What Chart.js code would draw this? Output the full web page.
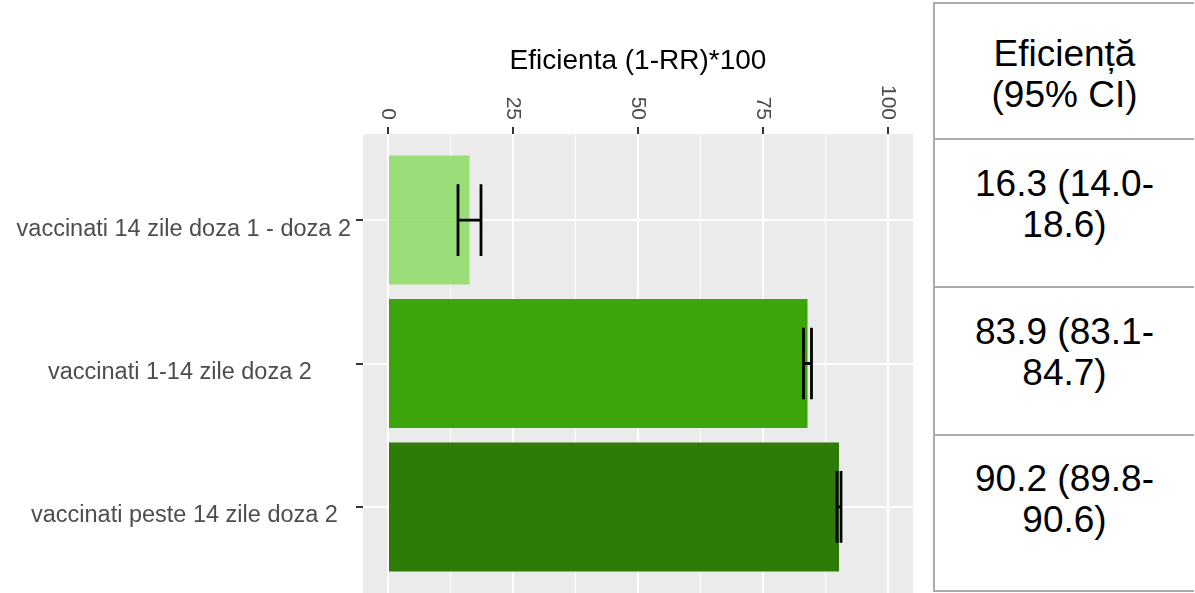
<!DOCTYPE html>
<html>
<head>
<meta charset="utf-8">
<script src="https://cdn.jsdelivr.net/npm/chart.js@4.4.1/dist/chart.umd.min.js"></script>
<style>
    html, body { margin: 0; padding: 0; background: #fff; }
    body { width: 1195px; height: 593px; overflow: hidden; position: relative; }
    #chart { position: absolute; left: 0; top: 0; }
    .cell {
        position: absolute;
        left: 933px;
        width: 261px;
        box-sizing: border-box;
        border-left: 2px solid #ABABAB;
        border-top: 2px solid #ABABAB;
        text-align: center;
        white-space: nowrap;
        font: 37px/41px 'Liberation Sans', Arial, sans-serif;
        color: #000;
    }
    .head { top: 2px; height: 137px; display: flex; align-items: center; justify-content: center; padding-top: 4px; }
    .row { padding-top: 23px; }
    .r1 { top: 138px; height: 148px; }
    .r2 { top: 286px; height: 148px; }
    .r3 { top: 434px; height: 158px; border-bottom: 2px solid #ABABAB; padding-top: 22px; }
</style>
</head>
<body>
<canvas id="chart" width="930" height="593"></canvas>
<div id="table"></div>
<script>
// Donnees
const categories = [
    'vaccinati 14 zile doza 1 - doza 2',
    'vaccinati 1-14 zile doza 2      ',
    'vaccinati peste 14 zile doza 2  '
];
const efficacy = [16.3, 83.9, 90.2];
const ciLower = [14.0, 83.1, 89.8];
const ciUpper = [18.6, 84.7, 90.6];
const xTicks = [0, 25, 50, 75, 100];
const xMinorTicks = [12.5, 37.5, 62.5, 87.5];
const tableHeader = ['Eficiență', '(95% CI)'];

const colors = {
    bars: ['rgba(140, 220, 102, 0.85)', '#3DA50C', '#2E7B07'],
    panel: '#EBEBEB',
    grid: '#FFFFFF',
    tick: '#333333',
    text: '#4D4D4D'
};

Chart.defaults.font.family = "'Liberation Sans', Arial, sans-serif";

// fond gris du panneau (style ggplot)
const panelBackground = {
    id: 'panelBackground',
    beforeDraw(chart) {
        const { ctx, chartArea: a } = chart;
        ctx.save();
        ctx.fillStyle = colors.panel;
        ctx.fillRect(a.left, a.top, a.right - a.left, a.bottom - a.top);
        ctx.restore();
    }
};

// barres d'erreur (IC 95%)
const errorBars = {
    id: 'errorBars',
    afterDatasetsDraw(chart) {
        const { ctx, scales: { x, y } } = chart;
        ctx.save();
        ctx.strokeStyle = '#000';
        ctx.lineWidth = 2.8;
        efficacy.forEach((v, i) => {
            const x1 = x.getPixelForValue(ciLower[i]);
            const x2 = x.getPixelForValue(ciUpper[i]);
            const yc = y.getPixelForValue(i + 1);
            const h = Math.abs(y.getPixelForValue(i + 1.25) - yc);
            ctx.beginPath();
            ctx.moveTo(x1, yc - h); ctx.lineTo(x1, yc + h);
            ctx.moveTo(x2, yc - h); ctx.lineTo(x2, yc + h);
            ctx.moveTo(x1, yc); ctx.lineTo(x2, yc);
            ctx.stroke();
        });
        ctx.restore();
    }
};

// etiquettes de l'axe x tournees dans le sens horaire
const rotatedTicks = {
    id: 'rotatedTicks',
    afterDraw(chart) {
        const { ctx, scales: { x } } = chart;
        ctx.save();
        ctx.fillStyle = colors.text;
        ctx.font = "21px 'Liberation Sans', Arial, sans-serif";
        ctx.textAlign = 'right';
        ctx.textBaseline = 'middle';
        xTicks.forEach(v => {
            ctx.save();
            ctx.translate(x.getPixelForValue(v), 120);
            ctx.rotate(Math.PI / 2);
            ctx.fillText(String(v), 0, 0);
            ctx.restore();
        });
        ctx.restore();
    }
};

const isMajor = c => !!c.tick && xTicks.includes(c.tick.value);

new Chart(document.getElementById('chart'), {
    type: 'bar',
    data: {
        datasets: [{
            data: efficacy.map((v, i) => ({ x: v, y: i + 1 })),
            backgroundColor: colors.bars,
            borderWidth: 0,
            barPercentage: 0.9,
            categoryPercentage: 1
        }]
    },
    options: {
        indexAxis: 'y',
        responsive: false,
        animation: false,
        layout: { padding: { left: 0, right: 17, top: 0, bottom: 0 } },
        plugins: {
            legend: { display: false },
            tooltip: { enabled: false }
        },
        scales: {
            x: {
                type: 'linear',
                position: 'top',
                min: -5,
                max: 105,
                afterBuildTicks: s => {
                    s.ticks = [...xTicks, ...xMinorTicks].sort((a, b) => a - b).map(v => ({ value: v }));
                },
                afterFit: s => {
                    s.height = 134;
                    s.paddingLeft = 0;
                    s.paddingRight = 0;
                },
                border: { display: false },
                grid: {
                    color: colors.grid,
                    lineWidth: c => isMajor(c) ? 2 : 1,
                    tickColor: c => isMajor(c) ? colors.tick : 'rgba(0,0,0,0)',
                    tickWidth: 2,
                    tickLength: 7
                },
                ticks: { display: false },
                title: {
                    display: true,
                    text: 'Eficienta (1-RR)*100',
                    color: '#000',
                    font: { size: 28 },
                    padding: { top: 44, bottom: 0 }
                }
            },
            y: {
                type: 'linear',
                min: 0.4,
                max: 3.6,
                reverse: true,
                offset: false,
                afterBuildTicks: s => {
                    s.ticks = categories.map((_, i) => ({ value: i + 1 }));
                },
                afterFit: s => {
                    s.width = 363;
                    s.paddingTop = 0;
                    s.paddingBottom = 0;
                },
                border: { display: false },
                grid: {
                    offset: false,
                    color: colors.grid,
                    lineWidth: 2,
                    tickColor: colors.tick,
                    tickWidth: 2,
                    tickLength: 7
                },
                ticks: {
                    color: colors.text,
                    font: { size: 23.5 },
                    padding: 5,
                    labelOffset: 9,
                    callback: v => categories[v - 1]
                }
            }
        }
    },
    plugins: [panelBackground, errorBars, rotatedTicks]
});

// tableau a droite
const table = document.getElementById('table');
const cells = [tableHeader.join('<br>')].concat(
    efficacy.map((v, i) => `${v.toFixed(1)} (${ciLower[i].toFixed(1)}-<br>${ciUpper[i].toFixed(1)})`)
);
cells.forEach((html, i) => {
    const div = document.createElement('div');
    div.className = 'cell ' + (i === 0 ? 'head' : 'row r' + i);
    div.innerHTML = i === 0 ? '<span>' + html + '</span>' : html;
    table.appendChild(div);
});
</script>
</body>
</html>
